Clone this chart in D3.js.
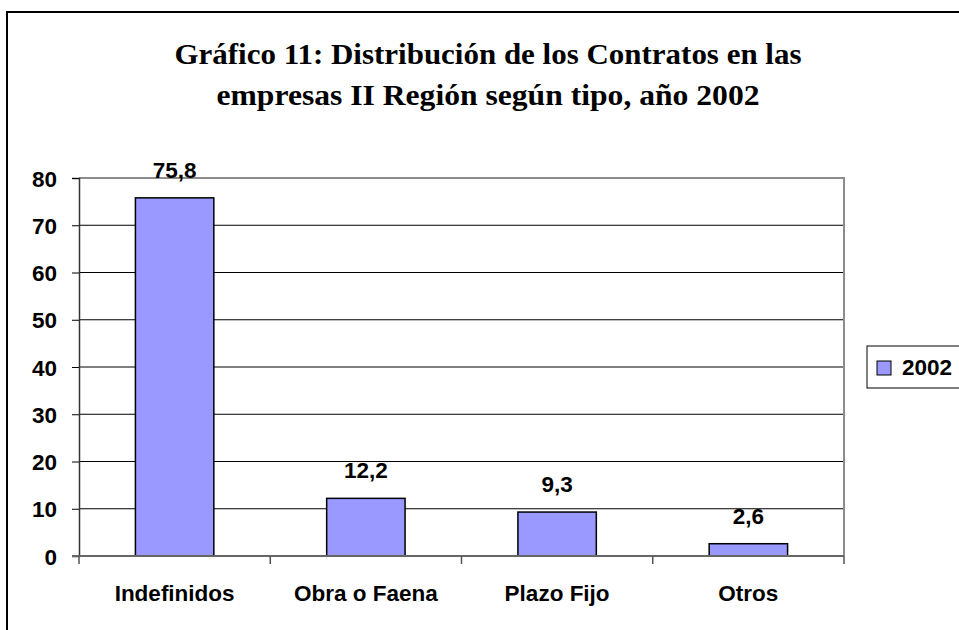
<!DOCTYPE html>
<html lang="es">
<head>
  <meta charset="UTF-8">
  <title>Gráfico 11</title>
  <script src="https://d3js.org/d3.v7.min.js"></script>
  <style>
    body { margin: 0; background: #fff; }
    svg { display: block; }
    .lbl { font-family: Arial, "Liberation Sans", sans-serif; font-weight: bold; fill: #000; }
    .title { font-family: "Times New Roman", "Liberation Serif", serif; font-weight: bold; fill: #000; }
  </style>
</head>
<body>
  <svg id="chart"></svg>
  <script>
    const categories = ["Indefinidos", "Obra o Faena", "Plazo Fijo", "Otros"];
    const values = [75.8, 12.2, 9.3, 2.6];
    const yTicks = [0, 10, 20, 30, 40, 50, 60, 70, 80];
    const seriesName = "2002";
    const titleLines = [
      "Gráfico 11: Distribución de los Contratos en las",
      "empresas II Región según tipo, año 2002"
    ];

    const width = 959, height = 630;
    const plot = { left: 79, right: 844, top: 178, bottom: 556 };
    const barColor = "#9999FF";
    const fs = 22.5;

    const svg = d3.select("#chart").attr("width", width).attr("height", height);

    // outer chart border (right/bottom fall outside the picture)
    svg.append("rect")
      .attr("x", 7).attr("y", 12)
      .attr("width", 980).attr("height", 660)
      .attr("fill", "#fff").attr("stroke", "#000").attr("stroke-width", 2);

    // title
    const titleW = [627, 543];
    svg.selectAll(".title").data(titleLines).join("text")
      .attr("class", "title")
      .attr("x", 488)
      .attr("y", (d, i) => 64 + i * 41)
      .attr("text-anchor", "middle")
      .attr("font-size", 29)
      .attr("textLength", (d, i) => titleW[i])
      .attr("lengthAdjust", "spacingAndGlyphs")
      .text(d => d);

    const x = d3.scaleBand().domain(categories).range([plot.left, plot.right]).padding(0);
    const y = d3.scaleLinear().domain([0, 80]).range([plot.bottom, plot.top]);

    // gridlines
    svg.append("g").selectAll("line").data(yTicks.filter(v => v > 0 && v < 80)).join("line")
      .attr("x1", plot.left).attr("x2", plot.right)
      .attr("y1", d => y(d)).attr("y2", d => y(d))
      .attr("stroke", "#000").attr("stroke-width", 1);

    // plot area border top/right
    svg.append("path")
      .attr("d", `M${plot.left},${y(80)}H${plot.right}V${y(0)}`)
      .attr("fill", "none").attr("stroke", "#8c8c8c").attr("stroke-width", 2);

    // bars
    const barW = x.bandwidth() * 0.41;
    svg.append("g").selectAll("rect").data(values).join("rect")
      .attr("x", (d, i) => x(categories[i]) + (x.bandwidth() - barW) / 2)
      .attr("y", d => y(d))
      .attr("width", barW)
      .attr("height", d => y(0) - y(d))
      .attr("fill", barColor)
      .attr("stroke", "#000").attr("stroke-width", 1.5);

    // value labels
    svg.append("g").selectAll("text").data(values).join("text")
      .attr("class", "lbl")
      .attr("font-size", fs)
      .attr("text-anchor", "middle")
      .attr("x", (d, i) => x(categories[i]) + x.bandwidth() / 2)
      .attr("y", d => y(d) - 20)
      .text(d => d3.format(".1f")(d).replace(".", ","));

    // y axis
    const yAxis = svg.append("g")
      .attr("transform", `translate(${plot.left},0)`)
      .call(d3.axisLeft(y).tickValues(yTicks).tickSize(7).tickPadding(15).tickFormat(d3.format("d")));
    yAxis.select(".domain").attr("stroke", "#333").attr("stroke-width", 1.5);
    yAxis.selectAll(".tick line").attr("stroke", "#000");
    yAxis.selectAll(".tick text").attr("class", "lbl").attr("font-size", fs).attr("dy", "0.36em");

    // x axis line and boundary ticks
    svg.append("line")
      .attr("x1", plot.left - 7).attr("x2", plot.right)
      .attr("y1", y(0)).attr("y2", y(0))
      .attr("stroke", "#666").attr("stroke-width", 2);
    const bounds = categories.map(c => x(c)).concat([x.range()[1]]);
    svg.append("g").selectAll("line").data(bounds).join("line")
      .attr("x1", d => d).attr("x2", d => d)
      .attr("y1", y(0)).attr("y2", y(0) + 8)
      .attr("stroke", "#555").attr("stroke-width", 1.5);
    svg.append("g").selectAll("text").data(categories).join("text")
      .attr("class", "lbl")
      .attr("font-size", fs)
      .attr("text-anchor", "middle")
      .attr("x", d => x(d) + x.bandwidth() / 2)
      .attr("y", 601)
      .text(d => d);

    // legend
    const lg = svg.append("g").attr("transform", "translate(867,346)");
    lg.append("rect").attr("x", 0).attr("y", 0).attr("width", 110).attr("height", 42)
      .attr("fill", "#fff").attr("stroke", "#000").attr("stroke-width", 1);
    lg.append("rect").attr("x", 10).attr("y", 15).attr("width", 14).attr("height", 14)
      .attr("fill", barColor).attr("stroke", "#000").attr("stroke-width", 1);
    lg.append("text").attr("class", "lbl").attr("font-size", fs)
      .attr("x", 35).attr("y", 29).text(seriesName);
  </script>
</body>
</html>
